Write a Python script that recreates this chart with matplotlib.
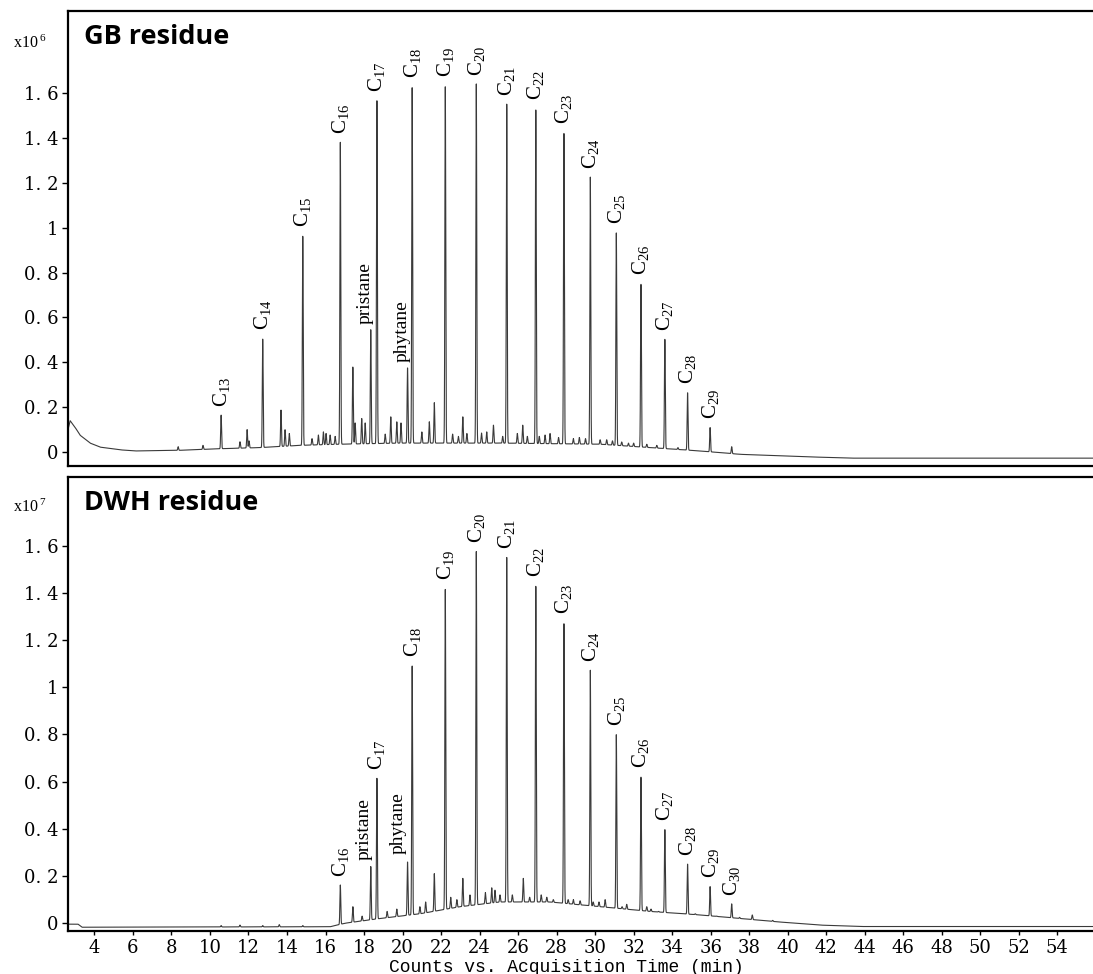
import numpy as np
import matplotlib.pyplot as plt

plt.rcParams['mathtext.fontset'] = 'custom'
plt.rcParams['mathtext.rm'] = 'Liberation Serif'
plt.rcParams['mathtext.it'] = 'Liberation Serif:italic'

# n-alkane retention times (min)
alkanes = ['13', '14', '15', '16', '17', '18', '19', '20', '21', '22',
           '23', '24', '25', '26', '27', '28', '29', '30']
alkane_rt = [10.58, 12.74, 14.82, 16.77, 18.67, 20.50, 22.22, 23.83, 25.41, 26.92,
             28.38, 29.75, 31.10, 32.38, 33.62, 34.80, 35.97, 37.09]

# peak apex heights, GB residue (x10^6 counts)
gb_alkane_top = [0.165, 0.505, 0.965, 1.38, 1.565, 1.63, 1.634, 1.64, 1.55, 1.53,
                 1.425, 1.225, 0.98, 0.75, 0.504, 0.265, 0.109, 0.024]
gb_labelled = ['13', '14', '15', '16', '17', '18', '19', '20', '21', '22',
               '23', '24', '25', '26', '27', '28', '29']
# DWH residue (x10^7 counts)
dwh_alkane_top = [-0.01, -0.01, -0.01, 0.162, 0.614, 1.094, 1.42, 1.575, 1.55, 1.433,
                  1.274, 1.072, 0.802, 0.621, 0.398, 0.251, 0.155, 0.082]
dwh_labelled = ['16', '17', '18', '19', '20', '21', '22', '23', '24', '25',
                '26', '27', '28', '29', '30']

# isoprenoids
iso_names = ['pristane', 'phytane']
iso_rt = [18.35, 20.26]
gb_iso_top = [0.545, 0.376]
dwh_iso_top = [0.24, 0.26]

# unresolved smaller peaks
gb_minor_rt = [8.35, 9.64, 11.56, 11.93, 12.03, 13.69, 13.90, 14.12, 15.63, 15.89,
               16.03, 16.24, 17.42, 17.54, 17.88, 18.06, 19.39, 19.70, 19.92, 21.39,
               21.65, 22.90, 23.13, 23.34, 24.37, 24.72, 25.96, 26.24, 26.48, 27.40,
               27.66, 28.87, 29.18, 30.26, 30.60, 31.38, 31.73, 32.68, 15.3, 16.5,
               19.1, 21.0, 22.6, 24.1, 25.2, 27.1, 28.1, 29.5, 30.9, 32.0, 33.2, 34.3]
gb_minor_top = [0.024, 0.03, 0.046, 0.10, 0.05, 0.187, 0.10, 0.083, 0.076, 0.09,
                0.083, 0.076, 0.38, 0.13, 0.15, 0.13, 0.157, 0.135, 0.13, 0.135,
                0.22, 0.07, 0.157, 0.083, 0.09, 0.12, 0.083, 0.12, 0.07, 0.076,
                0.083, 0.06, 0.065, 0.055, 0.055, 0.045, 0.04, 0.035, 0.06, 0.07,
                0.08, 0.09, 0.08, 0.085, 0.07, 0.07, 0.065, 0.06, 0.05, 0.04, 0.03, 0.02]
dwh_minor_rt = [11.56, 13.60, 17.42, 17.90, 19.70, 21.65, 22.82, 23.13, 24.63, 24.80,
                25.06, 26.27, 27.49, 27.83, 28.87, 29.22, 30.52, 31.64, 32.68, 34.05,
                38.16, 39.22, 19.2, 20.9, 21.2, 22.5, 23.5, 24.3, 25.7, 26.6,
                27.2, 28.6, 29.9, 30.2, 31.4, 32.9, 33.3, 35.2, 36.3, 37.5]
dwh_minor_top = [-0.008, -0.006, 0.07, 0.03, 0.06, 0.21, 0.10, 0.19, 0.15, 0.14,
                 0.12, 0.19, 0.11, 0.10, 0.10, 0.095, 0.10, 0.08, 0.07, 0.035,
                 0.035, 0.012, 0.05, 0.07, 0.09, 0.11, 0.12, 0.13, 0.12, 0.11,
                 0.12, 0.10, 0.09, 0.09, 0.07, 0.06, 0.05, 0.04, 0.03, 0.025]

# baseline drift
gb_base_t = [2.63, 2.74, 3.0, 3.26, 3.78, 4.30, 5.34, 6.11, 8.45, 10.53, 12.6, 14.7,
             16.75, 19.86, 25.06, 30.25, 32.85, 35.45, 37.53, 40.64, 43.24, 55.85]
gb_base_v = [0.10, 0.14, 0.11, 0.075, 0.04, 0.022, 0.01, 0.005, 0.008, 0.015, 0.02, 0.03,
             0.035, 0.04, 0.04, 0.035, 0.02, 0.005, -0.01, -0.02, -0.027, -0.027]
dwh_base_t = [2.63, 3.15, 3.36, 16.24, 17.02, 18.84, 20.91, 22.99, 25.06, 27.66,
              30.26, 32.85, 35.45, 37.53, 39.6, 41.68, 43.76, 55.85]
dwh_base_v = [-0.004, -0.004, -0.017, -0.015, 0.0, 0.02, 0.04, 0.07, 0.09, 0.09,
              0.07, 0.05, 0.035, 0.02, 0.005, -0.008, -0.014, -0.014]

x_ticks = list(range(4, 56, 2))
y_ticks = [0, 0.2, 0.4, 0.6, 0.8, 1.0, 1.2, 1.4, 1.6]
y_tick_labels = ['0', '0. 2', '0. 4', '0. 6', '0. 8', '1', '1. 2', '1. 4', '1. 6']

t = np.arange(2.63, 55.85, 0.004)
width = 0.022


def trace(base_t, base_v, peak_rt, peak_top):
    y = np.interp(t, base_t, base_v)
    for rt, top in zip(peak_rt, peak_top):
        amp = top - np.interp(rt, base_t, base_v)
        if amp > 0:
            y = y + amp * np.exp(-0.5 * ((t - rt) / width) ** 2)
    return y


W, H = 1093, 974
fig = plt.figure(figsize=(W / 100, H / 100), dpi=100)
ax1 = fig.add_axes([68 / W, 1 - 466 / H, 1025 / W, 455 / H])
ax2 = fig.add_axes([68 / W, 1 - 931 / H, 1025 / W, 454 / H])

panels = [
    (ax1, gb_base_t, gb_base_v, gb_alkane_top, gb_labelled, gb_iso_top, gb_minor_rt, gb_minor_top,
     (-0.062, 1.965), 'GB residue', '6', [(-4, 4), (-4, 4)], 43),
    (ax2, dwh_base_t, dwh_base_v, dwh_alkane_top, dwh_labelled, dwh_iso_top, dwh_minor_rt, dwh_minor_top,
     (-0.033, 1.891), 'DWH residue', '7', [(-5, 5), (-7, 6)], 507),
]

for ax, bt, bv, atop, lab, itop, mrt, mtop, ylim, title, exp, iso_off, exp_y in panels:
    y = trace(bt, bv, alkane_rt + iso_rt + mrt, atop + itop + mtop)
    ax.plot(t, y, color='#3a3a3a', lw=0.8)
    for n, rt, top in zip(alkanes, alkane_rt, atop):
        if n in lab:
            ax.annotate(r'C$_{\mathrm{%s}}$' % n, xy=(rt, top), xytext=(0, 6),
                        textcoords='offset points', rotation=90, ha='center', va='bottom',
                        fontsize=15, family='Liberation Serif')
    for name, rt, top, off in zip(iso_names, iso_rt, itop, iso_off):
        ax.annotate(name, xy=(rt, top), xytext=off, textcoords='offset points',
                    rotation=90, ha='center', va='bottom', fontsize=14, family='Liberation Serif')
    ax.set_xlim(2.63, 55.85)
    ax.set_ylim(*ylim)
    ax.set_yticks(y_ticks)
    ax.set_yticklabels(y_tick_labels, family='DejaVu Serif', fontsize=13)
    ax.set_xticks(x_ticks)
    ax.tick_params(axis='y', direction='out', length=4, width=1, pad=3)
    ax.tick_params(axis='x', direction='out', length=3, width=1, pad=3)
    for s in ['top', 'left', 'bottom']:
        ax.spines[s].set_linewidth(1.6)
    ax.spines['right'].set_visible(False)
    ax.text(16 / 1025, 1 - 13 / 455, title, transform=ax.transAxes, fontsize=19.5,
            fontweight='bold', family='Open Sans', ha='left', va='top')
    fig.text(13 / W, 1 - exp_y / H, r'x10$\,^{\mathrm{%s}}$' % exp, fontsize=11.5,
             family='Liberation Serif', ha='left', va='center')

ax1.tick_params(axis='x', bottom=False, labelbottom=False)
ax2.set_xticklabels([str(v) for v in x_ticks], family='DejaVu Serif', fontsize=13)
fig.text(566 / W, 1 - 967 / H, 'Counts vs. Acquisition Time (min)', family='Liberation Mono',
         fontsize=13, ha='center', va='center')

fig.savefig('out.png', dpi=100)
